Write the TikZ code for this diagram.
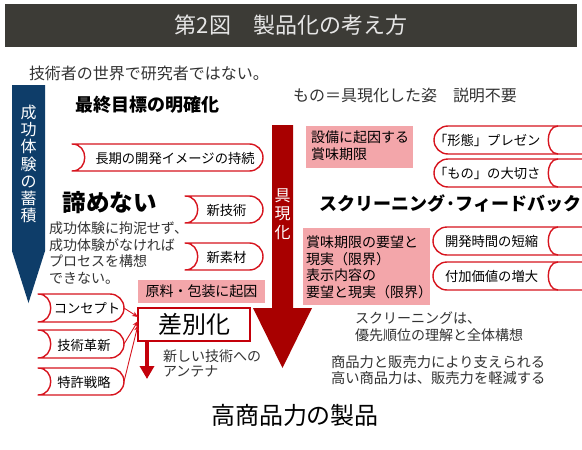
\documentclass[tikz,border=0pt]{standalone}
\usepackage{fontspec}
\setmainfont{Noto Sans CJK JP}
\usetikzlibrary{arrows.meta,calc}
\definecolor{titlebg}{HTML}{3C3B36}
\definecolor{titletxt}{HTML}{E6E6E6}
\definecolor{bluearrow}{HTML}{0E3D69}
\definecolor{redarrow}{HTML}{A80000}
\definecolor{smallred}{HTML}{C4000A}
\definecolor{tagred}{HTML}{D7141E}
\definecolor{pinkc}{HTML}{F3A6AA}
\definecolor{txtgray}{HTML}{333333}
\newcommand\fs[2]{\fontsize{#1}{#2}\selectfont}
\newcommand\LTag[5]{%
  \pgfmathsetmacro\tr{(#5-#3)/2}%
  \pgfmathsetmacro\tk{0.5523*\tr}%
  \pgfmathsetmacro\tm{(#3+#5)/2}%
  \coordinate (#1-e) at (#4,\tm);
  \draw[tagline] (#2,#3) -- ({#4-\tr},#3) .. controls +(\tk,0) and +(0,-\tk) .. (#4,\tm)
    .. controls +(0,\tk) and +(\tk,0) .. ({#4-\tr},#5) -- (#2,#5)
    .. controls +(17,0) and +(17,0) .. (#2,#3) -- cycle;
}
\newcommand\RTag[4]{%
  \pgfmathsetmacro\tr{(#4-#3)/2}%
  \pgfmathsetmacro\tk{0.5523*\tr}%
  \pgfmathsetmacro\tm{(#3+#4)/2}%
  \coordinate (#1-w) at (#2,\tm);
  \draw[tagline] (583,#3) -- ({#2+\tr},#3) .. controls +(-\tk,0) and +(0,-\tk) .. (#2,\tm)
    .. controls +(0,\tk) and +(-\tk,0) .. ({#2+\tr},#4) -- (583,#4);
  \draw[tagline] (558,#3) .. controls +(-13,0) and +(-13,0) .. (558,#4);
}
\begin{document}
\begin{tikzpicture}[x=1pt,y=-1pt,
  tagline/.style={draw=tagred, line width=1.4pt, line join=round},
  t/.style={inner sep=0pt, outer sep=0pt, text=txtgray},
  tagt/.style={inner sep=0pt, outer sep=0pt, text=black, font=\fs{13.3}{15}},
  pinkbox/.style={fill=pinkc, inner sep=0pt, outer sep=0pt, anchor=north west},
  thinarrow/.style={draw=tagred, line width=0.9pt, -{Stealth[length=6pt,width=5pt]}},
]
\useasboundingbox (0,0) rectangle (582,450);
\fill[white] (0,0) rectangle (582,450);

% title
\fill[titlebg] (5,4) rectangle (577,47);
\node[t, text=titletxt, font=\fs{22}{26}] (title) at (291,25) {第2図　製品化の考え方};

% top texts
\node[t, anchor=west, font=\fs{16}{19}] (tech) at (29,73) {技術者の世界で研究者ではない。};
\node[t, anchor=west, text=black, font=\bfseries\fs{18}{21}] (goal) at (75,105) {最終目標の明確化};
\node[t, anchor=west, font=\fs{16}{19}] (mono) at (293,95) {もの＝具現化した姿　説明不要};

% blue arrow
\fill[bluearrow] (12,85) -- (45,85) -- (45,251) -- (28.5,303) -- (12,251) -- cycle;
\node[t, text=white, align=center, font=\fs{16}{17.3}] (blue-t) at (28.5,164) {成\\功\\体\\験\\の\\蓄\\積};

% red arrow
\fill[redarrow] (272,125) -- (293,125) -- (293,308) -- (312,308) -- (282.5,368) -- (253,308) -- (272,308) -- cycle;
\node[t, text=white, align=center, font=\fs{16}{18.5}] (red-t) at (282.5,214) {具\\現\\化};

% left tags
\LTag{t1}{72}{144}{263}{171}
\node[tagt] (t1-t) at (175,158) {長期の開発イメージの持続};
\node[t, anchor=west, text=black, font=\bfseries\fs{23.5}{27}] (akira) at (63,203) {諦めない};
\LTag{t2}{185}{196}{263}{223}
\node[tagt] (t2-t) at (226.5,210) {新技術};
\LTag{t3}{185}{243}{263}{270}
\node[tagt] (t3-t) at (226.5,257) {新素材};
\node[t, anchor=west, align=left, font=\fs{14}{16.7}] (para) at (49,253) {成功体験に拘泥せず、\\成功体験がなければ\\プロセスを構想\\できない。};

\LTag{t4}{38}{294}{124}{322}
\node[tagt] (t4-t) at (87,308) {コンセプト};
\LTag{t5}{38}{330}{124}{358}
\node[tagt] (t5-t) at (84,345) {技術革新};
\LTag{t6}{38}{368}{124}{395}
\node[tagt] (t6-t) at (84,382) {特許戦略};

% pink box genryo
\node[pinkbox, minimum width=127pt, minimum height=23pt] (genryo) at (138,280) {};
\node[t, text=black, font=\fs{14}{17}] (genryo-t) at (genryo.center) {原料・包装に起因};

% sabetsuka
\node[draw=smallred, line width=1.3pt, fill=white, minimum width=112pt, minimum height=33pt, inner sep=0pt, outer sep=0pt, font=\fs{24}{28}, text=black] (sab) at (194,324.5) {差別化};
\draw[thinarrow] (t4-e) -- ($(sab.west)+(0,-7.5)$);
\draw[thinarrow] (t5-e) -- ($(sab.west)+(0,-3.5)$);
\draw[thinarrow] (t6-e) -- ($(sab.west)+(0,0.5)$);
\coordinate (ant) at (147,379);
\draw[smallred, line width=4pt, -{Triangle[length=13pt,width=14pt]}] ($(sab.south west)+(9,0)$) -- (ant);
\node[t, anchor=west, align=left, font=\fs{14}{15}] (antenna) at (163,363) {新しい技術への\\アンテナ};

% right pink boxes
\node[pinkbox, minimum width=107pt, minimum height=42pt] (setsubi) at (306,126) {};
\node[t, anchor=west, align=left, text=black, font=\fs{14}{17}] (setsubi-t) at (311,145.5) {設備に起因する\\賞味期限};
\node[pinkbox, minimum width=127pt, minimum height=77pt] (shomi) at (303,228) {};
\node[t, anchor=west, align=left, text=black, font=\fs{14}{16.5}] (shomi-t) at (306,267.5) {賞味期限の要望と\\現実（限界）\\表示内容の\\要望と現実（限界）};

% right tags
\RTag{r1}{434}{126}{154}
\node[tagt, anchor=west] (r1-t) at (434,140) {「形態」プレゼン};
\RTag{r2}{434}{159}{187}
\node[tagt, anchor=west] (r2-t) at (434,173) {「もの」の大切さ};
\node[t, anchor=west, text=black, font=\bfseries\fs{18}{21}] (screen) at (319,204) {スクリーニング·フィードバック};
\RTag{r3}{433}{227}{255}
\node[tagt, anchor=west] (r3-t) at (445,241) {開発時間の短縮};
\RTag{r4}{433}{262}{290}
\node[tagt, anchor=west] (r4-t) at (445,276) {付加価値の増大};

% bottom texts
\node[t, anchor=west, align=left, font=\fs{14}{17}] (scr2) at (355,326.5) {スクリーニングは、\\優先順位の理解と全体構想};
\node[t, anchor=west, align=left, font=\fs{14.3}{16}] (sales) at (331,370) {商品力と販売力により支えられる\\高い商品力は、販売力を軽減する};
\node[t, text=black, font=\fs{24}{28}] (final) at (295,415) {高商品力の製品};
\end{tikzpicture}
\end{document}
